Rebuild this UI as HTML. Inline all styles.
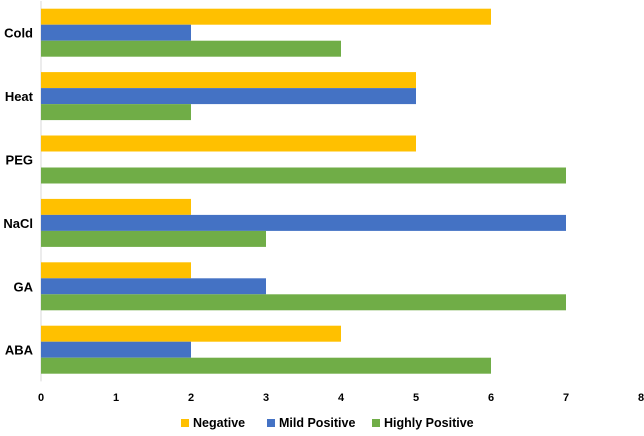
<!DOCTYPE html>
<html><head><meta charset="utf-8"><style>
body{margin:0;background:#fff;font-family:"Liberation Sans",sans-serif;}
</style></head><body>
<svg id="c" width="644" height="431" xmlns="http://www.w3.org/2000/svg"></svg>
<script>
const categories=["Cold","Heat","PEG","NaCl","GA","ABA"];
const negative=[6,5,5,2,2,4];
const mildPositive=[2,5,0,7,3,2];
const highlyPositive=[4,2,7,3,7,6];
const xTicks=[0,1,2,3,4,5,6,7,8];
const seriesNames=["Negative","Mild Positive","Highly Positive"];
const colors=["#FFC000","#4472C4","#70AD47"];
const svg=document.getElementById('c');
const NS="http://www.w3.org/2000/svg";
const x0=41,unit=75,plotTop=1,band=63.4,barH=16;
const xs=v=>x0+v*unit;
function el(t,a,p){const e=document.createElementNS(NS,t);for(const k in a)e.setAttribute(k,a[k]);(p||svg).appendChild(e);return e;}
const ax=el('line',{x1:x0,x2:x0,y1:plotTop,y2:plotTop+band*6,stroke:'#d9d9d9','stroke-width':1});


const series=[negative,mildPositive,highlyPositive];
categories.forEach((c,i)=>{
  const gy=plotTop+i*band+(band-3*barH)/2;
  series.forEach((s,j)=>{
    if(s[i]>0){
      const r=el('rect',{x:x0,y:gy+j*barH,width:xs(s[i])-x0,height:barH,fill:colors[j]});
      
      
    }
  });
  const t=el('text',{x:33,y:gy+barH*1.5+5,'text-anchor':'end','font-size':13,'font-weight':'bold',fill:'#000'});
  t.textContent=c;
  
  
});
xTicks.forEach(v=>{
  const t=el('text',{x:xs(v),y:401,'text-anchor':'middle','font-size':11,'font-weight':'bold',fill:'#000'});
  t.textContent=v;
  
  
});
const lx=[181,267,372];
seriesNames.forEach((n,j)=>{
  const g=el('g',{});
  
  
  el('rect',{x:lx[j],y:419,width:8,height:8,fill:colors[j]},g);
  const t=el('text',{x:lx[j]+12,y:427,'font-size':12.5,'font-weight':'bold',fill:'#000'},g);
  t.textContent=n;
});
</script>
</body></html>
